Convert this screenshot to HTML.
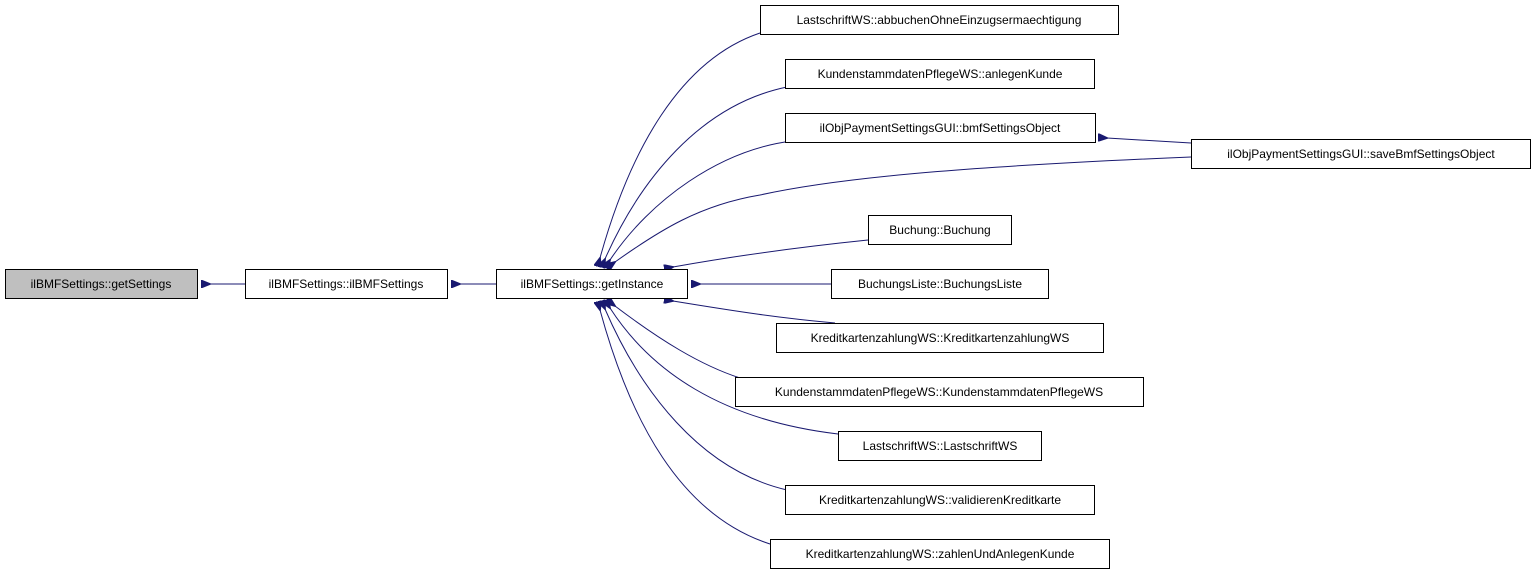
<!DOCTYPE html>
<html><head><meta charset="utf-8"><style>
html,body{margin:0;padding:0;background:#fff;}
svg{display:block}
text{font-family:"Liberation Sans",sans-serif;font-size:12px;fill:#000}
</style></head><body>
<svg width="1536" height="571" viewBox="0 0 1536 571" xmlns="http://www.w3.org/2000/svg">
<defs><marker id="a" markerWidth="10" markerHeight="8" refX="1" refY="4" orient="auto-start-reverse" markerUnits="userSpaceOnUse" viewBox="0 0 10 8"><path d="M10,0 L0,4 L10,8 z" fill="#191970" stroke="#191970"/></marker></defs>
<g fill="none" stroke="#191970" stroke-width="1">
<path d="M210,284 L245,284" marker-start="url(#a)"/>
<path d="M460,284 L496,284" marker-start="url(#a)"/>
<path d="M600,258 C630,150 680,60 760,33" marker-start="url(#a)"/>
<path d="M605,259 C640,180 700,105 787,87" marker-start="url(#a)"/>
<path d="M610,260 C650,200 720,150 792,141" marker-start="url(#a)"/>
<path d="M615,262 C660,230 700,205 760,195 C850,175 1000,165 1191,157" marker-start="url(#a)"/>
<path d="M1107,138 L1191,143" marker-start="url(#a)"/>
<path d="M673,267 C740,255 800,247 868,240" marker-start="url(#a)"/>
<path d="M700,284 L831,284" marker-start="url(#a)"/>
<path d="M673,301 C740,312 780,318 835,323" marker-start="url(#a)"/>
<path d="M615,306 C660,340 700,365 740,378 C760,384 780,388 800,390" marker-start="url(#a)"/>
<path d="M610,308 C650,370 720,420 838,434" marker-start="url(#a)"/>
<path d="M605,309 C640,390 700,470 787,490" marker-start="url(#a)"/>
<path d="M600,310 C630,420 680,515 770,544" marker-start="url(#a)"/>
</g>
<g stroke="#000" stroke-width="1" fill="#fff">
<rect x="5.5" y="269.5" width="192" height="29" fill="#bfbfbf"/>
<rect x="245.5" y="269.5" width="202" height="29"/>
<rect x="496.5" y="269.5" width="191" height="29"/>
<rect x="760.5" y="5.5" width="358" height="29"/>
<rect x="785.5" y="59.5" width="309" height="29"/>
<rect x="785.5" y="113.5" width="310" height="29"/>
<rect x="1191.5" y="139.5" width="339" height="29"/>
<rect x="868.5" y="215.5" width="143" height="29"/>
<rect x="831.5" y="269.5" width="217" height="29"/>
<rect x="776.5" y="323.5" width="327" height="29"/>
<rect x="735.5" y="377.5" width="408" height="29"/>
<rect x="838.5" y="431.5" width="203" height="29"/>
<rect x="785.5" y="485.5" width="309" height="29"/>
<rect x="770.5" y="539.5" width="339" height="29"/>
</g>
<g text-anchor="middle">
<text x="101" y="288">ilBMFSettings::getSettings</text>
<text x="346" y="288">ilBMFSettings::ilBMFSettings</text>
<text x="592" y="288">ilBMFSettings::getInstance</text>
<text x="939" y="24">LastschriftWS::abbuchenOhneEinzugsermaechtigung</text>
<text x="940" y="78">KundenstammdatenPflegeWS::anlegenKunde</text>
<text x="940" y="132">ilObjPaymentSettingsGUI::bmfSettingsObject</text>
<text x="1361" y="158">ilObjPaymentSettingsGUI::saveBmfSettingsObject</text>
<text x="940" y="234">Buchung::Buchung</text>
<text x="940" y="288">BuchungsListe::BuchungsListe</text>
<text x="940" y="342">KreditkartenzahlungWS::KreditkartenzahlungWS</text>
<text x="939" y="396">KundenstammdatenPflegeWS::KundenstammdatenPflegeWS</text>
<text x="940" y="450">LastschriftWS::LastschriftWS</text>
<text x="940" y="504">KreditkartenzahlungWS::validierenKreditkarte</text>
<text x="940" y="558">KreditkartenzahlungWS::zahlenUndAnlegenKunde</text>
</g>
</svg>
</body></html>
